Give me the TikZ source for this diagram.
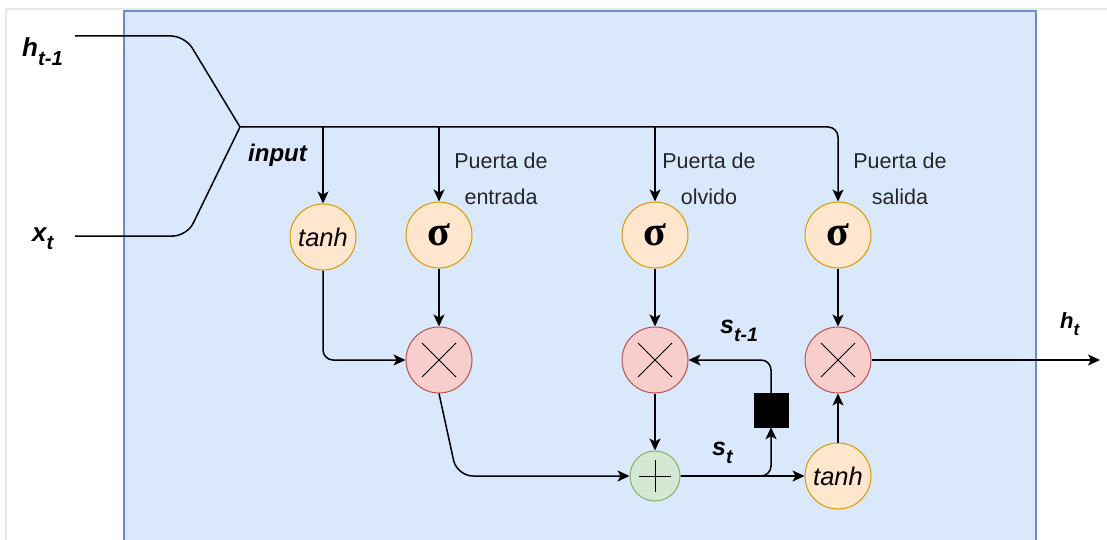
\documentclass[tikz,border=0pt]{standalone}
\usepackage{fontspec}
\setmainfont{Liberation Sans}
\newfontfamily\sigmafont{Liberation Serif}
\usepackage{tikz}
\usetikzlibrary{calc}
\usetikzlibrary{arrows.meta}

\definecolor{panelfill}{HTML}{DAE8FC}
\definecolor{paneldraw}{HTML}{6C8EBF}
\definecolor{gatefill}{HTML}{FFE6CC}
\definecolor{gatedraw}{HTML}{D79B00}
\definecolor{mulfill}{HTML}{F8CECC}
\definecolor{muldraw}{HTML}{B85450}
\definecolor{addfill}{HTML}{D5E8D4}
\definecolor{adddraw}{HTML}{82B366}

\newcommand{\fsz}[1]{\fontsize{#1}{#1}\selectfont}
% large, lowered subscript
\newcommand{\lsub}[1]{\raisebox{-.32em}{\scalebox{.78}{#1}}}

\begin{document}
\begin{tikzpicture} [x=1pt, y=-1pt,
  wire/.style={black, line width=1.5pt, -{Stealth[length=12pt, width=11pt, inset=3pt]}},
  line/.style={black, line width=1.5pt},
  gate/.style={circle, draw=gatedraw, fill=gatefill, line width=1pt, minimum size=66pt, inner sep=0pt},
  mulop/.style={circle, draw=muldraw, fill=mulfill, line width=1pt, minimum size=66pt, inner sep=0pt,
    path picture={\draw[black, line width=.8pt] (path picture bounding box.center) +(-17pt,-17pt) -- +(17pt,17pt) +(-17pt,17pt) -- +(17pt,-17pt);}},
  addop/.style={circle, draw=adddraw, fill=addfill, line width=1pt, minimum size=50pt, inner sep=0pt,
    path picture={\draw[black, line width=.8pt] (path picture bounding box.center) +(-16pt,0pt) -- +(16pt,0pt) +(0pt,-16pt) -- +(0pt,16pt);}},
  sym/.style={font=\fsz{26}\bfseries\itshape, inner sep=0pt, anchor=base west},
  gatename/.style={font=\fsz{21.5}, align=center, inner sep=0pt, text=black!85},
  sig/.style={gate, font=\fsz{42}\sigmafont\bfseries}]
\useasboundingbox (0,0) rectangle (1107,540);

% frame and cell
\draw[black!9, line width=2pt] (6,540) -- (6,9.5) -- (1107,9.5);
\draw[paneldraw, fill=panelfill, line width=1.5pt] (124,11) rectangle (1036,548);

% gates
\node[gate, font=\fsz{25.5}\itshape] (tanhIn) at (323,237) {tanh};
\node[sig] (sigIn) at (439,235) {σ};
\node[sig] (sigForget) at (655,235) {σ};
\node[sig] (sigOut) at (838,235) {σ};

\node[mulop] (mulIn) at (439,360) {};
\node[mulop] (mulForget) at (655,360) {};
\node[mulop] (mulOut) at (838,360) {};

\node[addop] (addState) at (655,476) {};
\node[gate, font=\fsz{25.5}\itshape] (tanhOut) at (838,476) {tanh};
\node[draw, fill=black, minimum size=34pt, inner sep=0pt] (delay) at (771,410) {};

% labels
\node[sym] (hPrev) at (22,57) {h\lsub{t-1}};
\node[sym] (xCur) at (32,241) {x\lsub{t}};
\node[sym, font=\fsz{24}\bfseries\itshape] (inp) at (248,162) {input};
\node[sym, font=\fsz{25}\bfseries\itshape] (sPrev) at (720,333) {s\lsub{t-1}};
\node[sym, font=\fsz{25}\bfseries\itshape] (sCur) at (712,455) {s\lsub{t}};
\node[sym, font=\fsz{22}\bfseries\itshape] (hCur) at (1060,328) {h\lsub{t}};

\node[gatename] (lblIn) at (501,179) {Puerta de\\[14pt]entrada};
\node[gatename] (lblForget) at (709,179) {Puerta de\\[14pt]olvido};
\node[gatename] (lblOut) at (900,179) {Puerta de\\[14pt]salida};

\coordinate (hIn) at (75,36);
\coordinate (xIn) at (75,236);
\coordinate (join) at (240,127);
\coordinate (hOut) at (1100,360);

% inputs merge and split to the gates
\draw[line, rounded corners=14pt] (hIn) -- (185,36) -- (join);
\draw[line, rounded corners=14pt] (xIn) -- (187,236) -- (join);
\draw[wire, rounded corners=10pt] (join) -| (sigOut);
\foreach \g in {tanhIn, sigIn, sigForget} \draw[wire] (join -| \g) -- (\g);

% cell state
\draw[wire, rounded corners=10pt] (tanhIn) |- (mulIn);
\draw[wire] (sigIn) -- (mulIn);
\draw[wire] (sigForget) -- (mulForget);
\draw[wire] (sigOut) -- (mulOut);
\draw[wire, rounded corners=16pt] (mulIn.south) -- (457,476) -- (addState);
\draw[wire] (mulForget) -- (addState);
\draw[wire] (addState) -- (tanhOut);
\draw[wire, rounded corners=10pt] (addState) -| (delay);
\draw[wire, rounded corners=10pt] (delay) |- (mulForget);
\draw[wire] (tanhOut) -- (mulOut);
\draw[wire] (mulOut) -- (hOut);

\end{tikzpicture}
\end{document}
